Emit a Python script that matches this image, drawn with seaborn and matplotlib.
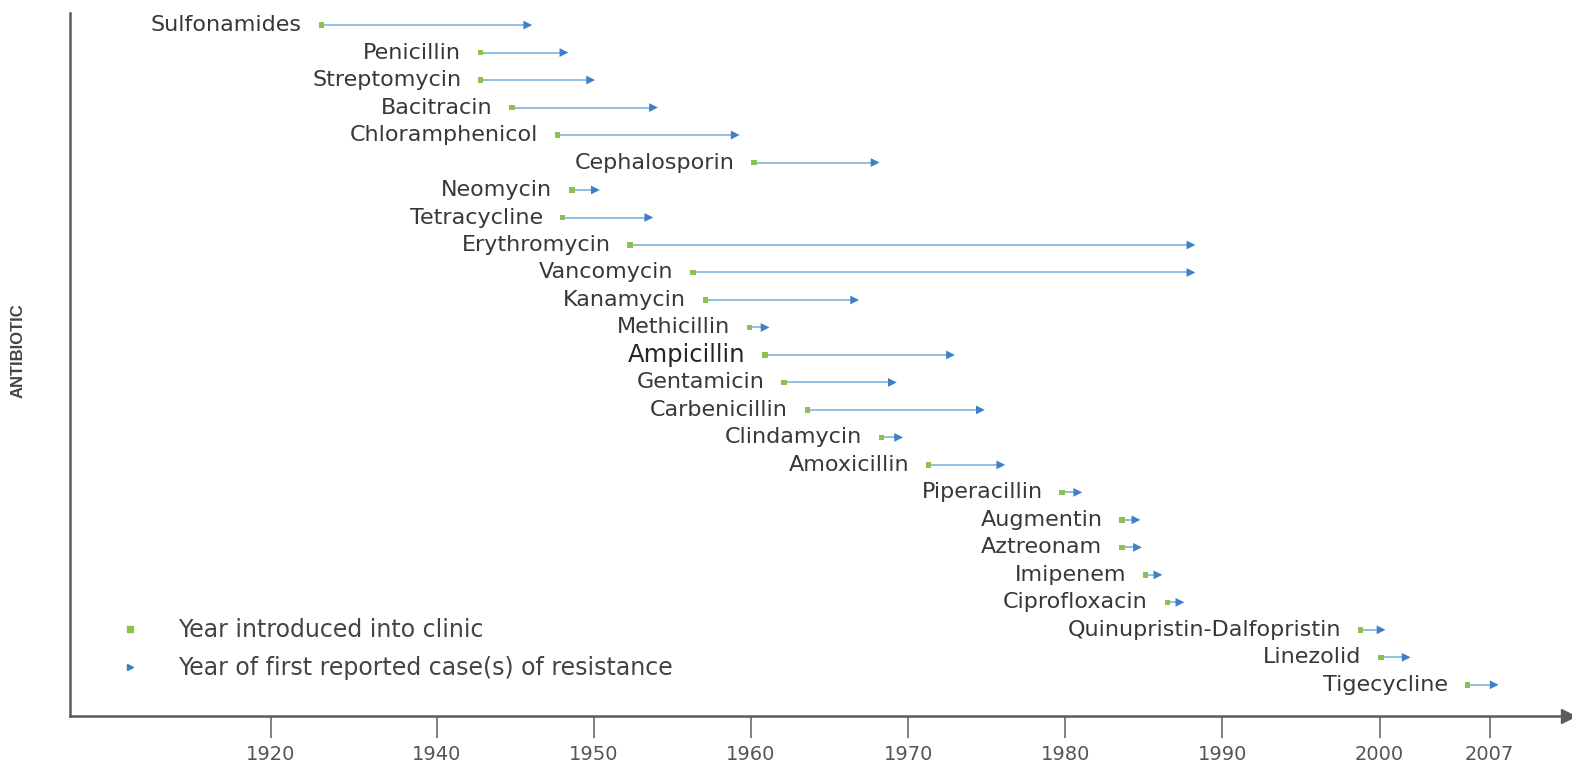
import numpy as np
import pandas as pd
import matplotlib
matplotlib.use("Agg")
import matplotlib.pyplot as plt
from matplotlib.lines import Line2D
import seaborn as sns

# antibiotics, year introduced and year of first reported resistance
antibiotics = ["Sulfonamides", "Penicillin", "Streptomycin", "Bacitracin", "Chloramphenicol",
               "Cephalosporin", "Neomycin", "Tetracycline", "Erythromycin", "Vancomycin",
               "Kanamycin", "Methicillin", "Ampicillin", "Gentamicin", "Carbenicillin",
               "Clindamycin", "Amoxicillin", "Piperacillin", "Augmentin", "Aztreonam",
               "Imipenem", "Ciprofloxacin", "Quinupristin-Dalfopristin", "Linezolid", "Tigecycline"]
year_intro = [1926.1, 1942.8, 1942.8, 1944.8, 1947.7,
              1960.2, 1948.6, 1948.0, 1952.3, 1956.3,
              1957.1, 1959.9, 1960.9, 1962.1, 1963.6,
              1968.3, 1971.3, 1979.8, 1983.6, 1983.6,
              1985.1, 1986.5, 1998.8, 2000.1, 2005.6]
year_resist = [1945.8, 1948.1, 1949.8, 1953.8, 1959.0,
               1967.9, 1950.1, 1953.5, 1988.0, 1988.0,
               1966.6, 1960.9, 1972.7, 1969.0, 1974.6,
               1969.4, 1975.9, 1980.8, 1984.5, 1984.6,
               1985.9, 1987.3, 2000.1, 2001.7, 2007.3]
year_ticks = [1920, 1940, 1950, 1960, 1970, 1980, 1990, 2000, 2007]

df = pd.DataFrame({"name": antibiotics, "intro": year_intro, "resist": year_resist})
df["row"] = np.arange(len(df))

# axis is squeezed before 1940 (20 years take the room of ~10)
K = 0.528
def fwd(x):
    x = np.asarray(x, dtype=float)
    return np.where(x < 1940, 1940 - (1940 - x) * K, x)
def inv(t):
    t = np.asarray(t, dtype=float)
    return np.where(t < 1940, 1940 - (1940 - t) / K, t)

sns.set_style("white")
plt.rcParams["font.family"] = ["DejaVu Sans"]

GREEN = "#8cc152"
BLUE = "#3f7fc4"
LINE = "#8ab8e0"
TXT = "#383838"
AX = "#5c5c5c"

fig = plt.figure(figsize=(15.72, 7.64), dpi=100)
ax = fig.add_axes([0.0445, 0.063, 0.953, 0.92])
ax.set_xscale("function", functions=(fwd, inv))

ax.hlines(df["row"], df["intro"], df["resist"], color=LINE, lw=1.3, zorder=1)
sns.scatterplot(data=df, x="resist", y="row", marker=">", s=40, color=BLUE,
                edgecolor="none", ax=ax, legend=False, zorder=3)
sns.scatterplot(data=df, x="intro", y="row", marker="s", s=16, color=GREEN,
                edgecolor="none", ax=ax, legend=False, zorder=3)

for _, r in df.iterrows():
    big = r["name"] == "Ampicillin"
    ax.annotate(r["name"], xy=(r["intro"], r["row"]), xytext=(-14, 0),
                textcoords="offset points", ha="right", va="center",
                fontsize=17.5 if big else 16, color="#262626" if big else TXT)

ax.set_xlim(1895.8, 2012.0)
ax.set_ylim(len(df) - 1 + 1.13, -0.44)

ax.set_xticks(year_ticks)
ax.set_xticklabels([str(y) for y in year_ticks])
ax.tick_params(axis="x", direction="out", length=16, width=1.3, color="#777777",
               labelsize=14, labelcolor="#555555", pad=5, bottom=True)
ax.set_yticks([])
ax.set_xlabel("")
ax.set_ylabel("ANTIBIOTIC", family=["Liberation Sans"], fontsize=12, fontweight="bold",
              color="#444444")
ax.yaxis.set_label_coords(-0.0293, 0.52)

sns.despine(ax=ax)
for side in ["left", "bottom"]:
    ax.spines[side].set_color(AX)
    ax.spines[side].set_linewidth(1.8)
# arrow head at the end of the time axis
ax.plot([1.0], [0.0], marker=">", ms=10, color=AX, transform=ax.transAxes, clip_on=False)

handles = [Line2D([], [], ls="none", marker="s", ms=4, color=GREEN),
           Line2D([], [], ls="none", marker=">", ms=5, color=BLUE)]
ax.legend(handles, ["Year introduced into clinic", "Year of first reported case(s) of resistance"],
          loc="center left", bbox_to_anchor=(0.0243, 0.095), frameon=False,
          fontsize=17, labelcolor="#444444", handletextpad=1.03, labelspacing=0.6,
          borderpad=0, borderaxespad=0)

fig.savefig("out.png", dpi=100)
